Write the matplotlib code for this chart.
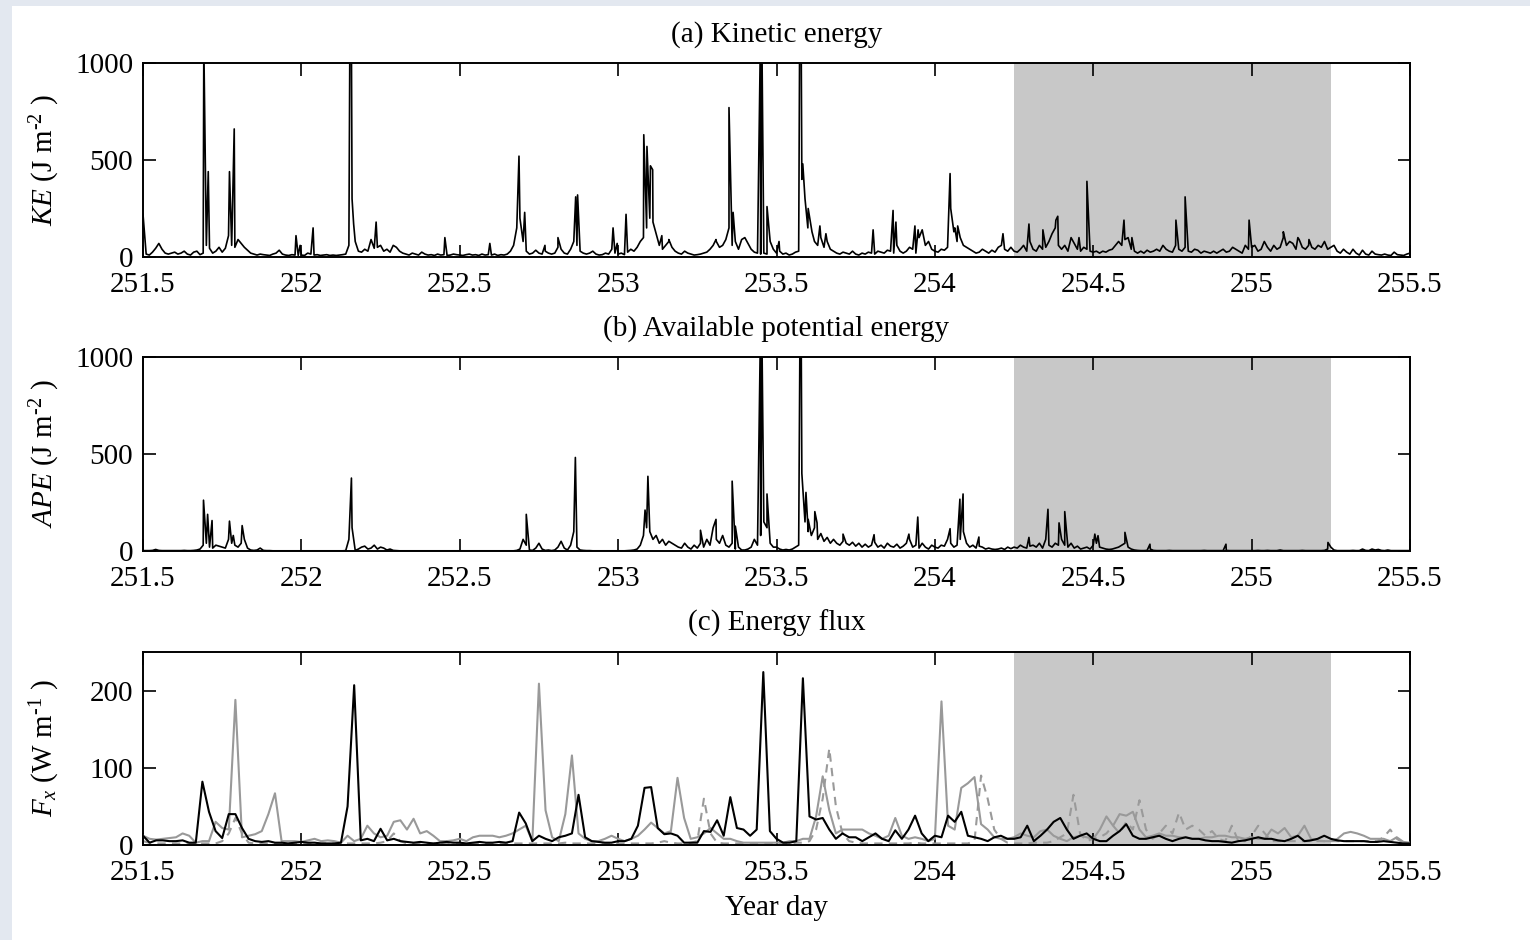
import numpy as np
import matplotlib
matplotlib.use('Agg')
import matplotlib.pyplot as plt
from matplotlib.patches import Rectangle

plt.rcParams['font.family'] = ['Liberation Serif', 'DejaVu Serif']
plt.rcParams['mathtext.fontset'] = 'custom'
plt.rcParams['mathtext.rm'] = 'Liberation Serif'
plt.rcParams['mathtext.it'] = 'Liberation Serif:italic'
plt.rcParams['font.size'] = 21

# ---------------- data ----------------
x_start, x_end = 251.5, 255.5
x_ticks = [251.5, 252, 252.5, 253, 253.5, 254, 254.5, 255, 255.5]
x_ticklabels = ['251.5', '252', '252.5', '253', '253.5', '254', '254.5', '255', '255.5']
shade_start, shade_end = 254.25, 255.25

titles = ['(a) Kinetic energy', '(b) Available potential energy', '(c) Energy flux']
ylabels = ['$KE$ (J m$^{\u20102}$ )', '$APE$ (J m$^{\u20102}$ )', '$F_x$ (W m$^{\u20101}$ )']
xlabel = 'Year day'

# background (0.01-day steps, 251.50 ... 255.50)
base_step = 0.01
ke_base = [
    220, 15, 10, 25, 45, 70, 40, 20, 15, 20,
    25, 15, 20, 30, 15, 10, 25, 30, 12, 20,
    60, 45, 20, 30, 50, 25, 45, 110, 60, 50,
    90, 70, 50, 35, 20, 15, 10, 15, 12, 10,
    8, 15, 20, 35, 15, 10, 8, 12, 10, 8,
    10, 8, 20, 15, 10, 12, 8, 10, 12, 8,
    10, 8, 10, 12, 15, 60, 300, 80, 30, 25,
    40, 30, 90, 45, 50, 60, 30, 40, 25, 60,
    50, 30, 20, 15, 10, 20, 15, 10, 25, 15,
    10, 12, 8, 15, 10, 12, 8, 10, 15, 12,
    10, 8, 12, 15, 10, 12, 8, 15, 10, 12,
    10, 15, 8, 12, 10, 15, 30, 60, 150, 200,
    80, 30, 15, 20, 35, 20, 15, 30, 20, 15,
    20, 50, 40, 20, 15, 40, 80, 60, 30, 20,
    15, 20, 30, 15, 10, 12, 20, 15, 40, 20,
    15, 20, 12, 25, 40, 30, 50, 80, 100, 150,
    200, 180, 120, 60, 40, 60, 80, 50, 30, 20,
    15, 30, 20, 15, 10, 12, 15, 20, 25, 40,
    60, 80, 50, 60, 90, 150, 60, 80, 40, 90,
    100, 70, 40, 25, 20, 15, 20, 15, 80, 40,
    20, 30, 15, 20, 10, 15, 25, 30, 400, 300,
    250, 150, 80, 60, 100, 50, 80, 40, 30, 20,
    15, 25, 20, 15, 30, 15, 10, 20, 15, 25,
    20, 15, 30, 25, 20, 35, 30, 20, 60, 30,
    20, 30, 50, 40, 20, 100, 140, 60, 80, 40,
    30, 25, 40, 35, 50, 250, 130, 80, 100, 60,
    50, 40, 30, 20, 25, 40, 30, 20, 35, 25,
    50, 60, 40, 30, 50, 30, 25, 40, 60, 30,
    80, 40, 30, 60, 40, 50, 80, 120, 150, 60,
    40, 60, 30, 100, 70, 40, 30, 50, 40, 30,
    25, 30, 20, 30, 25, 35, 40, 60, 80, 60,
    90, 100, 40, 30, 20, 30, 20, 35, 25, 30,
    40, 30, 60, 40, 30, 25, 60, 40, 30, 50,
    30, 25, 40, 35, 20, 30, 25, 20, 30, 20,
    30, 40, 25, 30, 50, 40, 30, 20, 60, 40,
    50, 60, 30, 40, 80, 50, 30, 60, 40, 50,
    100, 60, 80, 70, 40, 90, 50, 40, 60, 50,
    40, 60, 50, 80, 40, 50, 60, 30, 20, 40,
    25, 15, 40, 20, 10, 35, 15, 10, 30, 15,
    12, 10, 15, 10, 8, 25, 12, 10, 8, 15,
    20,
]
ke_spike_t = [251.692, 251.706, 251.773, 251.788, 251.983, 251.996, 252.037,
              252.153, 252.158, 252.165, 252.236, 252.453, 252.595, 252.687,
              252.705, 252.769, 252.810, 252.866, 252.872, 252.984, 252.997,
              253.025, 253.081, 253.091, 253.102, 253.109, 253.138, 253.160,
              253.309, 253.350, 253.363, 253.449, 253.454, 253.470, 253.508,
              253.573, 253.578, 253.583, 253.599, 253.612, 253.637, 253.656,
              253.805, 253.868, 253.877, 253.937, 253.947, 254.048, 254.063,
              254.072, 254.215, 254.297, 254.341, 254.382, 254.388, 254.455,
              254.480, 254.597, 254.622, 254.761, 254.790, 254.992, 255.100,
              255.146, 255.181]
ke_spike_v = [1100, 440, 440, 660, 110, 60, 150,
              1100, 1100, 170, 180, 100, 70, 520,
              230, 60, 100, 310, 320, 150, 70,
              220, 630, 570, 470, 450, 110, 90,
              90, 770, 230, 1100, 1100, 260, 80,
              1100, 1100, 480, 150, 130, 160, 120,
              140, 240, 180, 160, 140, 430, 150,
              160, 120, 170, 140, 190, 210, 100,
              390, 190, 100, 190, 310, 190, 130,
              100, 90]

ape_base = [
    2, 2, 2, 3, 8, 3, 2, 2, 2, 2,
    2, 2, 2, 3, 2, 2, 3, 5, 10, 30,
    40, 20, 15, 30, 25, 20, 15, 60, 40, 30,
    20, 40, 60, 15, 5, 3, 5, 15, 3, 2,
    2, 1, 1, 1, 1, 1, 1, 1, 1, 1,
    1, 1, 1, 1, 1, 1, 1, 1, 1, 1,
    1, 1, 1, 1, 2, 60, 120, 3, 10, 20,
    25, 10, 15, 30, 10, 20, 15, 5, 10, 3,
    2, 1, 1, 1, 1, 1, 1, 1, 1, 1,
    1, 1, 1, 1, 1, 1, 1, 1, 1, 1,
    1, 1, 1, 1, 1, 1, 1, 1, 1, 1,
    1, 1, 1, 1, 1, 1, 1, 1, 3, 10,
    60, 30, 5, 3, 15, 40, 10, 3, 5, 2,
    5, 20, 50, 15, 5, 30, 100, 20, 5, 3,
    2, 2, 1, 1, 1, 1, 1, 1, 1, 1,
    1, 1, 1, 2, 3, 5, 10, 30, 80, 120,
    100, 60, 80, 40, 60, 30, 50, 40, 30, 20,
    15, 40, 20, 10, 30, 15, 40, 20, 60, 30,
    120, 60, 40, 80, 30, 20, 40, 10, 20, 5,
    5, 10, 20, 60, 30, 80, 150, 120, 40, 20,
    20, 10, 5, 8, 5, 10, 20, 30, 400, 150,
    100, 80, 120, 60, 90, 50, 70, 40, 60, 40,
    30, 50, 40, 30, 45, 25, 40, 20, 35, 20,
    30, 45, 20, 30, 15, 40, 25, 20, 35, 15,
    25, 40, 60, 20, 30, 15, 40, 20, 10, 30,
    20, 15, 30, 25, 60, 40, 20, 30, 60, 100,
    40, 20, 30, 15, 25, 20, 10, 15, 10, 8,
    10, 15, 8, 20, 12, 20, 15, 30, 20, 15,
    25, 30, 20, 40, 15, 60, 30, 20, 40, 30,
    60, 30, 20, 40, 15, 25, 10, 15, 20, 10,
    30, 40, 20, 15, 10, 8, 10, 15, 20, 30,
    40, 20, 10, 5, 3, 2, 2, 3, 10, 3,
    2, 2, 2, 2, 3, 2, 2, 2, 2, 2,
    2, 2, 2, 2, 2, 3, 2, 2, 2, 2,
    2, 2, 3, 2, 2, 2, 2, 2, 2, 2,
    2, 2, 3, 2, 2, 3, 2, 2, 2, 5,
    2, 2, 2, 2, 2, 2, 3, 2, 2, 2,
    2, 2, 2, 3, 10, 20, 5, 2, 2, 2,
    2, 2, 3, 2, 2, 10, 3, 2, 10, 5,
    8, 3, 2, 5, 2, 2, 2, 2, 2, 2,
    2,
]
ape_spike_t = [251.691, 251.704, 251.718, 251.773, 251.785, 251.813, 252.158,
               252.710, 252.865, 253.085, 253.094, 253.260, 253.309, 253.360,
               253.370, 253.449, 253.454, 253.470, 253.574, 253.578, 253.593,
               253.600, 253.621, 253.628, 253.710, 253.808, 253.918, 253.946,
               254.048, 254.079, 254.089, 254.139, 254.297, 254.357, 254.392,
               254.410, 254.505, 254.515, 254.600, 254.679, 254.919, 255.241]
ape_spike_v = [262, 189, 157, 154, 80, 131, 376,
               189, 482, 211, 385, 107, 163, 360,
               128, 1100, 1100, 294, 1100, 1100, 302,
               163, 203, 145, 87, 84, 87, 175,
               115, 267, 294, 72, 70, 215, 145,
               203, 87, 79, 96, 35, 35, 44]

# energy flux (30-min samples, 251.5 ... 255.5)
flux_step = 1.0 / 48
flux_black = [
    12, 3, 6, 6, 5, 5, 6, 3, 3, 82,
    43, 18, 9, 40, 40, 22, 8, 5, 4, 5,
    3, 3, 2, 3, 4, 3, 3, 2, 2, 2,
    3, 50, 207, 6, 8, 5, 21, 6, 8, 5,
    4, 3, 4, 3, 2, 3, 4, 3, 3, 2,
    3, 4, 3, 3, 4, 3, 5, 42, 28, 5,
    12, 8, 5, 10, 12, 15, 65, 10, 5, 4,
    3, 3, 5, 5, 8, 25, 74, 75, 22, 14,
    15, 12, 3, 3, 3, 18, 17, 32, 12, 62,
    22, 20, 12, 20, 224, 18, 8, 3, 3, 5,
    216, 37, 33, 35, 20, 8, 15, 10, 10, 5,
    10, 15, 8, 5, 19, 8, 20, 38, 15, 5,
    12, 10, 38, 30, 43, 12, 10, 8, 5, 10,
    12, 8, 8, 10, 25, 5, 12, 20, 30, 35,
    20, 8, 12, 15, 8, 5, 5, 12, 18, 27,
    12, 8, 8, 10, 12, 8, 5, 8, 10, 8,
    8, 6, 5, 5, 4, 3, 5, 6, 8, 10,
    8, 8, 6, 5, 8, 12, 5, 6, 8, 12,
    8, 6, 5, 5, 5, 5, 4, 4, 5, 4,
    3, 2, 2,
]
flux_gray = [
    12, 8, 7, 8, 9, 10, 15, 12, 3, 5,
    5, 30, 22, 20, 188, 10, 12, 14, 18, 40,
    67, 5, 5, 5, 4, 6, 8, 5, 6, 5,
    3, 12, 5, 8, 25, 15, 10, 12, 30, 32,
    20, 34, 15, 18, 12, 5, 5, 6, 8, 5,
    10, 12, 12, 12, 10, 12, 15, 20, 25, 5,
    209, 45, 10, 5, 40, 116, 15, 8, 5, 5,
    8, 12, 8, 5, 8, 12, 20, 29, 22, 15,
    18, 87, 35, 8, 10, 15, 22, 15, 8, 8,
    5, 3, 3, 3, 3, 3, 3, 3, 5, 5,
    8, 8, 37, 89, 45, 15, 20, 20, 20, 20,
    15, 12, 8, 12, 35, 12, 8, 10, 8, 5,
    8, 186, 25, 20, 74, 80, 88, 27, 20, 10,
    8, 8, 10, 15, 12, 10, 18, 20, 12, 8,
    5, 10, 12, 10, 8, 20, 37, 25, 40, 38,
    43, 20, 10, 12, 15, 12, 12, 10, 10, 8,
    8, 10, 10, 12, 12, 10, 10, 8, 10, 8,
    8, 20, 15, 22, 10, 12, 25, 8, 6, 5,
    5, 8, 15, 17, 15, 12, 8, 8, 8, 5,
    10, 4, 3,
]
flux_dashed = [
    5, 3, 2, 2, 2, 2, 2, 2, 2, 2,
    2, 2, 5, 15, 35, 15, 3, 2, 2, 2,
    2, 2, 2, 2, 2, 2, 2, 2, 2, 2,
    2, 2, 2, 2, 2, 2, 3, 5, 15, 5,
    2, 2, 2, 2, 2, 2, 2, 2, 2, 2,
    2, 2, 2, 2, 2, 2, 2, 2, 2, 2,
    2, 2, 2, 2, 3, 2, 2, 2, 2, 2,
    2, 2, 2, 2, 2, 2, 2, 2, 3, 5,
    3, 2, 2, 3, 5, 60, 15, 3, 2, 2,
    2, 2, 2, 2, 2, 2, 2, 2, 2, 3,
    3, 5, 20, 60, 125, 50, 15, 5, 3, 2,
    2, 2, 2, 2, 2, 2, 2, 3, 2, 2,
    2, 2, 2, 2, 2, 2, 5, 90, 60, 20,
    8, 3, 2, 2, 2, 3, 3, 3, 5, 10,
    15, 65, 15, 5, 8, 10, 15, 25, 15, 30,
    20, 58, 20, 8, 15, 25, 15, 42, 20, 25,
    20, 12, 18, 8, 5, 25, 5, 5, 12, 25,
    15, 5, 5, 5, 5, 5, 5, 5, 5, 5,
    5, 5, 5, 5, 5, 5, 5, 5, 10, 20,
    8, 3, 2,
]

energy_yticks = [0, 500, 1000]
energy_ylim = (0, 1000)
flux_yticks = [0, 100, 200]
flux_ylim = (0, 250)


def merge(base, spike_t, spike_v):
    t = x_start + base_step * np.arange(len(base))
    tt = np.concatenate([t, np.array(spike_t)])
    vv = np.concatenate([np.array(base, float), np.array(spike_v, float)])
    order = np.argsort(tt, kind='stable')
    return tt[order], vv[order]


ke_t, ke_v = merge(ke_base, ke_spike_t, ke_spike_v)
ape_t, ape_v = merge(ape_base, ape_spike_t, ape_spike_v)
flux_t = x_start + flux_step * np.arange(len(flux_black))

# ---------------- figure ----------------
W, H = 1530, 940
fig = plt.figure(figsize=(W / 100, H / 100), dpi=100)
fig.patch.set_facecolor('#e3e8f0')
fig.patches.append(Rectangle((12 / W, 0), 1 - 12 / W, 1 - 6 / H,
                             transform=fig.transFigure, facecolor='white',
                             edgecolor='none', zorder=-10))

left = 143 / W
width = (1410 - 143) / W
boxes = [(63, 257), (357, 551), (652, 845)]
axes = []
for (top, bot) in boxes:
    ax = fig.add_axes([left, 1 - bot / H, width, (bot - top) / H])
    axes.append(ax)

series = [(ke_t, ke_v), (ape_t, ape_v)]
for k, ax in enumerate(axes):
    ax.axvspan(shade_start, shade_end, color='#c8c8c8', lw=0, zorder=0)
    if k < 2:
        t, v = series[k]
        ax.plot(t, v, color='black', lw=1.2, zorder=2)
        ax.set_ylim(*energy_ylim)
        ax.set_yticks(energy_yticks)
    else:
        ax.plot(flux_t, flux_dashed, color='#9a9a9a', lw=1.5, ls=(0, (4, 3)), zorder=2)
        ax.plot(flux_t, flux_gray, color='#999999', lw=1.5, zorder=3)
        ax.plot(flux_t, flux_black, color='black', lw=1.5, zorder=4)
        ax.set_ylim(*flux_ylim)
        ax.set_yticks(flux_yticks)
        ax.set_xlabel(xlabel, labelpad=6)
    ax.set_xlim(x_start, x_end)
    ax.set_xticks(x_ticks)
    ax.set_xticklabels(x_ticklabels)
    ax.tick_params(direction='in', length=9, width=1.2, top=True, right=True,
                   labelsize=21, color='black')
    ax.tick_params(axis='x', pad=11)
    ax.tick_params(axis='y', pad=7)
    for s in ax.spines.values():
        s.set_linewidth(1.4)
    ax.set_title(titles[k], fontsize=21, pad=15)
    ax.set_ylabel(ylabels[k], fontsize=21)
    ax.yaxis.set_label_coords(-0.064, 0.5)

fig.savefig('out.png', dpi=100, facecolor=fig.get_facecolor())
